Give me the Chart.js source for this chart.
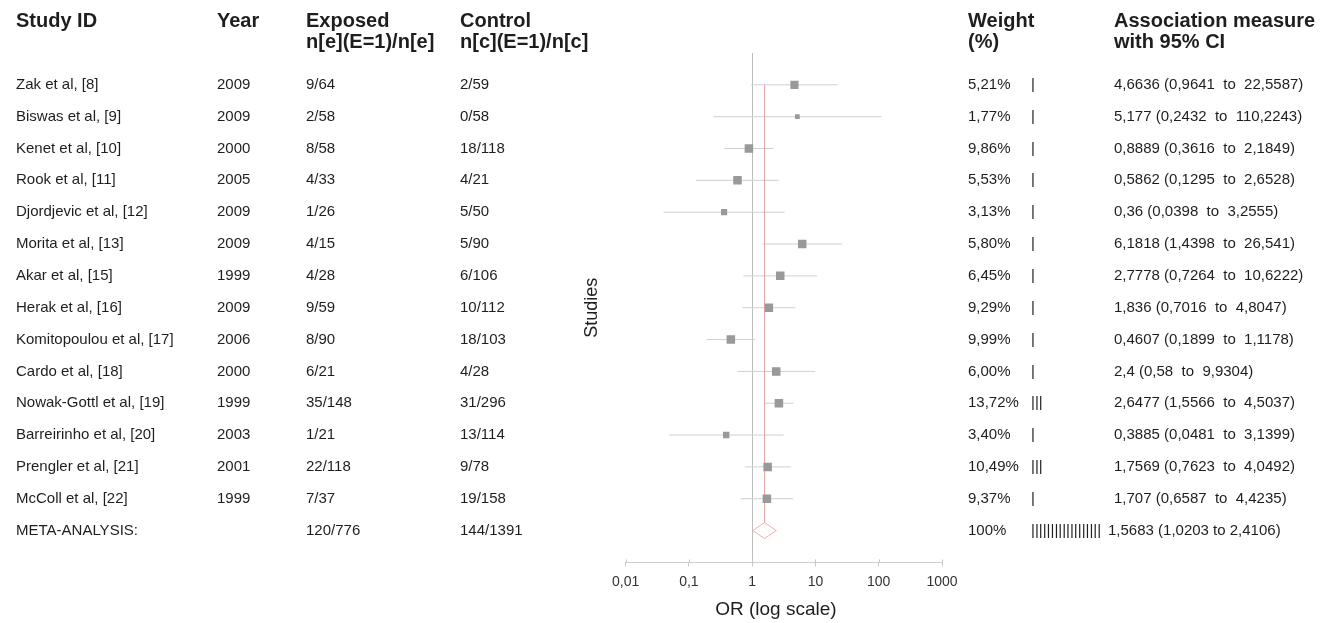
<!DOCTYPE html>
<html>
<head>
<meta charset="utf-8">
<title>Forest plot</title>
<script src="https://cdn.jsdelivr.net/npm/chart.js@4.4.1/dist/chart.umd.min.js"></script>
<style>
  html, body { margin: 0; padding: 0; background: #fff; }
  #wrap { width: 1326px; height: 623px; position: relative; }
</style>
</head>
<body>
<div id="wrap"><canvas id="forestChart"></canvas></div>
<script>
// Dados dos estudos
const studies = ['Zak et al, [8]', 'Biswas et al, [9]', 'Kenet et al, [10]', 'Rook et al, [11]',
  'Djordjevic et al, [12]', 'Morita et al, [13]', 'Akar et al, [15]', 'Herak et al, [16]',
  'Komitopoulou et al, [17]', 'Cardo et al, [18]', 'Nowak-Gottl et al, [19]', 'Barreirinho et al, [20]',
  'Prengler et al, [21]', 'McColl et al, [22]'];
const years = [2009, 2009, 2000, 2005, 2009, 2009, 1999, 2009, 2006, 2000, 1999, 2003, 2001, 1999];
const exposed = ['9/64', '2/58', '8/58', '4/33', '1/26', '4/15', '4/28', '9/59', '8/90', '6/21', '35/148', '1/21', '22/118', '7/37'];
const control = ['2/59', '0/58', '18/118', '4/21', '5/50', '5/90', '6/106', '10/112', '18/103', '4/28', '31/296', '13/114', '9/78', '19/158'];
const weights = [5.21, 1.77, 9.86, 5.53, 3.13, 5.80, 6.45, 9.29, 9.99, 6.00, 13.72, 3.40, 10.49, 9.37];
const weightBars = ['|', '|', '|', '|', '|', '|', '|', '|', '|', '|', '|||', '|', '|||', '|'];
const oddsRatio = [4.6636, 5.177, 0.8889, 0.5862, 0.36, 6.1818, 2.7778, 1.836, 0.4607, 2.4, 2.6477, 0.3885, 1.7569, 1.707];
const ciLow = [0.9641, 0.2432, 0.3616, 0.1295, 0.0398, 1.4398, 0.7264, 0.7016, 0.1899, 0.58, 1.5566, 0.0481, 0.7623, 0.6587];
const ciHigh = [22.5587, 110.2243, 2.1849, 2.6528, 3.2555, 26.541, 10.6222, 4.8047, 1.1178, 9.9304, 4.5037, 3.1399, 4.0492, 4.4235];

// Meta-análise
const metaLabel = 'META-ANALYSIS:';
const metaExposed = '120/776';
const metaControl = '144/1391';
const metaWeight = '100%';
const metaBars = '||||||||||||||||||';
const metaOR = 1.5683;
const metaLow = 1.0203;
const metaHigh = 2.4106;

// Cabeçalhos e eixo
const headerTop = ['Study ID', 'Year', 'Exposed', 'Control', 'Weight', 'Association measure'];
const headerSub = ['', '', 'n[e](E=1)/n[e]', 'n[c](E=1)/n[c]', '(%)', 'with 95% CI'];
const tickValues = [0.01, 0.1, 1, 10, 100, 1000];
const tickLabels = ['0,01', '0,1', '1', '10', '100', '1000'];

const FONT = "'Liberation Sans', Arial, Helvetica, sans-serif";
const TEXT = '#1e1e1e';
const headerX = [16, 217, 306, 460, 968, 1114];
const col = { study: 16, year: 217, exposed: 306, control: 460, weight: 968, bars: 1031, assoc: 1114, metaAssoc: 1108 };

const fmt = v => String(v).replace('.', ',');
const metaRow = studies.length;

// Texto da tabela desenhado no canvas, alinhado com a escala y
const tablePlugin = {
  id: 'tableText',
  afterDraw(chart) {
    const ctx = chart.ctx;
    const xScale = chart.scales.x;
    const yScale = chart.scales.y;
    ctx.save();

    // marcas do eixo também acima da linha
    ctx.strokeStyle = '#c8c8c8';
    ctx.lineWidth = 1;
    const axisY = chart.chartArea.bottom;
    tickValues.forEach(v => {
      const px = Math.round(xScale.getPixelForValue(v)) + 0.5;
      ctx.beginPath();
      ctx.moveTo(px, axisY - 3);
      ctx.lineTo(px, axisY);
      ctx.stroke();
    });

    ctx.fillStyle = TEXT;
    ctx.textAlign = 'left';
    ctx.textBaseline = 'middle';

    ctx.font = `bold 20px ${FONT}`;
    headerTop.forEach((h, i) => ctx.fillText(h, headerX[i], 21));
    headerSub.forEach((h, i) => { if (h) ctx.fillText(h, headerX[i], 42); });

    ctx.font = `15px ${FONT}`;
    studies.forEach((s, i) => {
      const py = yScale.getPixelForValue(i);
      ctx.fillText(s, col.study, py);
      ctx.fillText(String(years[i]), col.year, py);
      ctx.fillText(exposed[i], col.exposed, py);
      ctx.fillText(control[i], col.control, py);
      ctx.fillText(weights[i].toFixed(2).replace('.', ',') + '%', col.weight, py);
      ctx.fillText(weightBars[i], col.bars, py);
      ctx.fillText(`${fmt(oddsRatio[i])} (${fmt(ciLow[i])}  to  ${fmt(ciHigh[i])})`, col.assoc, py);
    });

    const my = yScale.getPixelForValue(metaRow);
    ctx.fillText(metaLabel, col.study, my);
    ctx.fillText(metaExposed, col.exposed, my);
    ctx.fillText(metaControl, col.control, my);
    ctx.fillText(metaWeight, col.weight, my);
    ctx.fillText(metaBars, col.bars, my);
    ctx.fillText(`${fmt(metaOR)} (${fmt(metaLow)} to ${fmt(metaHigh)})`, col.metaAssoc, my);
    ctx.restore();
  }
};

Chart.defaults.font.family = FONT;

// Linhas dos intervalos de confiança
const ciSets = ciLow.map((lo, i) => ({
  label: 'CI ' + studies[i],
  data: [{ x: lo, y: i }, { x: ciHigh[i], y: i }],
  showLine: true,
  borderColor: '#d0d0d0',
  borderWidth: 1,
  pointRadius: 0,
  order: 3
}));

new Chart(document.getElementById('forestChart'), {
  type: 'scatter',
  data: {
    datasets: [
      {
        label: 'OR',
        data: oddsRatio.map((v, i) => ({ x: v, y: i })),
        pointStyle: 'rect',
        pointRadius: weights.map(w => Math.min(8.5, 3 + w) / Math.SQRT2),
        backgroundColor: '#999999',
        borderWidth: 0,
        order: 1
      },
      ...ciSets,
      {
        label: 'Pooled',
        data: [{ x: metaOR, y: 0 }, { x: metaOR, y: metaRow - 0.25 }],
        showLine: true,
        borderColor: '#f4a3a3',
        borderWidth: 1,
        pointRadius: 0,
        order: 2
      },
      {
        label: 'Meta',
        data: [
          { x: metaLow, y: metaRow }, { x: metaOR, y: metaRow - 0.25 },
          { x: metaHigh, y: metaRow }, { x: metaOR, y: metaRow + 0.25 },
          { x: metaLow, y: metaRow }
        ],
        showLine: true,
        borderColor: '#f6abab',
        borderWidth: 1,
        pointRadius: 0,
        fill: false,
        order: 2
      }
    ]
  },
  options: {
    responsive: true,
    maintainAspectRatio: false,
    animation: false,
    layout: { padding: { left: 581, right: 384, top: 53, bottom: 0 } },
    plugins: {
      legend: { display: false },
      tooltip: { enabled: false }
    },
    scales: {
      x: {
        type: 'logarithmic',
        min: 0.01,
        max: 1000,
        afterBuildTicks: scale => {
          scale.ticks = tickValues.map(v => ({ value: v }));
        },
        ticks: {
          callback: (value, index) => tickLabels[index],
          font: { size: 14 },
          color: '#333',
          padding: 7,
          autoSkip: false,
          maxRotation: 0
        },
        grid: {
          color: ctx => (ctx.tick && ctx.tick.value === 1 ? '#bdbdbd' : 'rgba(0,0,0,0)'),
          tickColor: '#c8c8c8',
          tickLength: 4
        },
        border: { color: '#cfcfcf' },
        title: {
          display: true,
          text: 'OR (log scale)   ',
          font: { size: 19 },
          color: TEXT,
          padding: { top: 1, bottom: 2 }
        }
      },
      y: {
        type: 'linear',
        min: -1,
        max: 15,
        reverse: true,
        grid: { display: false, drawTicks: false },
        border: { display: false },
        ticks: { display: false },
        title: {
          display: true,
          text: 'Studies',
          font: { size: 18 },
          color: TEXT,
          padding: { top: 0, bottom: 23 }
        }
      }
    }
  },
  plugins: [tablePlugin]
});
</script>
</body>
</html>
